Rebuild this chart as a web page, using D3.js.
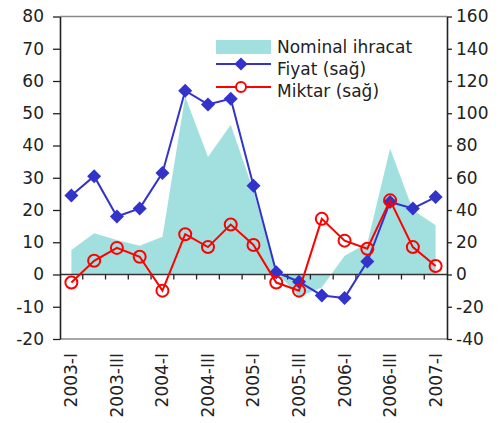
<!DOCTYPE html>
<html>
<head>
<meta charset="utf-8">
<script src="https://cdn.jsdelivr.net/npm/d3@7"></script>
<style>
  body { margin: 0; background: #fff; }
  svg { display: block; }
  text { font-family: "DejaVu Sans", sans-serif; fill: #222; }
</style>
</head>
<body>
<svg id="chart" width="500" height="423"></svg>
<script>
// Quarterly periods
const quarters = ["2003-I","2003-II","2003-III","2003-IV","2004-I","2004-II","2004-III","2004-IV",
  "2005-I","2005-II","2005-III","2005-IV","2006-I","2006-II","2006-III","2006-IV","2007-I"];
// Nominal exports, annual % change (left axis)
const nominal = [7.6, 12.8, 10.7, 8.9, 11.7, 55.2, 36.4, 46.4, 26.0, 0.7, -6.9, -4.0, 5.8, 9.7, 39.1, 20.0, 15.3];
// Price index, annual % change (right axis)
const fiyat = [49, 61, 36, 41, 63, 114, 105.5, 109, 55, 1.4, -4.5, -13, -14.5, 8, 45, 41, 48];
// Volume index, annual % change (right axis)
const miktar = [-5, 8.5, 16.5, 11, -10, 25, 17, 31, 18.3, -5, -10, 34.5, 21, 16, 46, 17, 5.3];
// Axis ticks
const leftTicks = [-20, -10, 0, 10, 20, 30, 40, 50, 60, 70, 80];
const rightTicks = [-40, -20, 0, 20, 40, 60, 80, 100, 120, 140, 160];
const shownLabels = ["2003-I","2003-III","2004-I","2004-III","2005-I","2005-III","2006-I","2006-III","2007-I"];

const svg = d3.select("#chart");
const L = 60, R = 447, T = 16.5, B = 339;

const x = d3.scaleBand().domain(quarters).range([L, R]);
const cx = q => x(q) + x.bandwidth() / 2;
const yL = d3.scaleLinear().domain([-20, 80]).range([B, T]);
const yR = d3.scaleLinear().domain([-40, 160]).range([B, T]);
const plain = d => String(d);

// Frame top and bottom
svg.append("line").attr("x1", L).attr("x2", R).attr("y1", T).attr("y2", T)
  .attr("stroke", "#8a8a8a").attr("stroke-width", 1.5);
svg.append("line").attr("x1", L).attr("x2", R).attr("y1", B).attr("y2", B)
  .attr("stroke", "#8a8a8a").attr("stroke-width", 1.5);

// Nominal exports area
const area = d3.area()
  .x((d, i) => cx(quarters[i]))
  .y0(yL(0))
  .y1(d => yL(d));
svg.append("path").datum(nominal).attr("d", area).attr("fill", "#a2e0e0");

// Zero line with ticks at period boundaries
svg.append("line").attr("x1", L).attr("x2", R).attr("y1", yL(0)).attr("y2", yL(0))
  .attr("stroke", "#333").attr("stroke-width", 1.5);
svg.append("g").selectAll("line").data(quarters.slice(1).map(q => x(q)))
  .join("line")
  .attr("x1", d => d).attr("x2", d => d)
  .attr("y1", yL(0)).attr("y2", yL(0) + 5)
  .attr("stroke", "#222").attr("stroke-width", 1.3);

// Left axis
const gL = svg.append("g").attr("transform", `translate(${L},0)`)
  .call(d3.axisLeft(yL).tickValues(leftTicks).tickFormat(plain).tickSize(7).tickSizeOuter(0).tickPadding(9));
gL.select(".domain").attr("stroke", "#222").attr("stroke-width", 1.6);
gL.selectAll(".tick line").attr("stroke", "#222").attr("stroke-width", 1.3);
gL.selectAll(".tick text").style("font-size", "17px").attr("fill", "#222");

// Right axis
const gR = svg.append("g").attr("transform", `translate(${R},0)`)
  .call(d3.axisRight(yR).tickValues(rightTicks).tickFormat(plain).tickSize(5).tickSizeOuter(0).tickPadding(4));
gR.select(".domain").attr("stroke", "#222").attr("stroke-width", 1.6);
gR.selectAll(".tick line").attr("stroke", "#222").attr("stroke-width", 1.3);
gR.selectAll(".tick text").style("font-size", "17px").attr("fill", "#222");

// Category labels, rotated
const gX = svg.append("g").attr("transform", `translate(0,${B})`)
  .call(d3.axisBottom(x).tickValues(shownLabels).tickSize(0).tickPadding(0));
gX.select(".domain").remove();
gX.selectAll(".tick text")
  .style("font-size", "17px")
  .attr("fill", "#222")
  .attr("text-anchor", "end")
  .attr("dy", "0.35em")
  .attr("transform", "translate(0,14) rotate(-90)")
  .attr("x", 0).attr("y", 0);

// Price line with diamonds
const lineR = d3.line().x((d, i) => cx(quarters[i])).y(d => yR(d));
const blue = "#3333cc", red = "#ff0000";
svg.append("path").datum(fiyat).attr("d", lineR)
  .attr("fill", "none").attr("stroke", blue).attr("stroke-width", 2);
const diamond = d3.symbol().type(d3.symbolDiamond2).size(125);
svg.append("g").selectAll("path").data(fiyat).join("path")
  .attr("d", diamond)
  .attr("transform", (d, i) => `translate(${cx(quarters[i])},${yR(d)})`)
  .attr("fill", blue);

// Volume line with hollow circles
svg.append("path").datum(miktar).attr("d", lineR)
  .attr("fill", "none").attr("stroke", red).attr("stroke-width", 2);
svg.append("g").selectAll("circle").data(miktar).join("circle")
  .attr("cx", (d, i) => cx(quarters[i])).attr("cy", d => yR(d))
  .attr("r", 6).attr("fill", "none").attr("stroke", red).attr("stroke-width", 2);

// Legend
const lg = svg.append("g");
lg.append("rect").attr("x", 216).attr("y", 40).attr("width", 55).attr("height", 14).attr("fill", "#a2e0e0");
lg.append("text").attr("x", 277).attr("y", 53).style("font-size", "17px").text("Nominal ihracat");
lg.append("line").attr("x1", 216).attr("x2", 271).attr("y1", 64).attr("y2", 64)
  .attr("stroke", blue).attr("stroke-width", 2);
lg.append("path").attr("d", d3.symbol().type(d3.symbolDiamond2).size(110))
  .attr("transform", "translate(241,64)").attr("fill", blue);
lg.append("text").attr("x", 277).attr("y", 75).style("font-size", "17px").text("Fiyat (sağ)");
lg.append("line").attr("x1", 216).attr("x2", 271).attr("y1", 87).attr("y2", 87)
  .attr("stroke", red).attr("stroke-width", 2);
lg.append("circle").attr("cx", 241).attr("cy", 87).attr("r", 5)
  .attr("fill", "#fff").attr("stroke", red).attr("stroke-width", 2);
lg.append("text").attr("x", 277).attr("y", 97).style("font-size", "17px").text("Miktar (sağ)");
</script>
</body>
</html>
